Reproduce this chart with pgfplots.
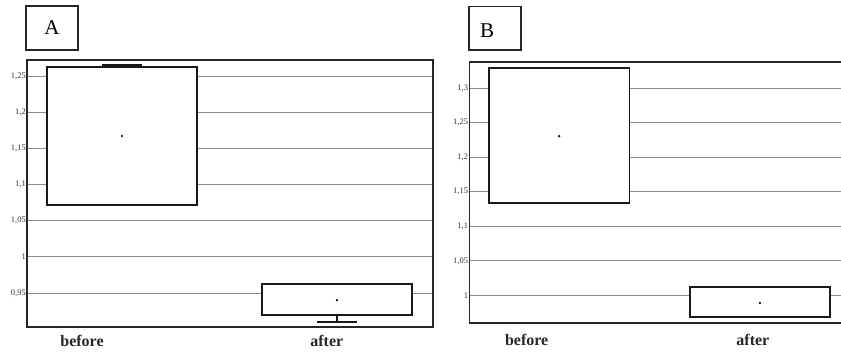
\documentclass[border=0pt]{standalone}
\usepackage{fontspec}
\setmainfont{Liberation Serif}
\usepackage{pgfplots}
\pgfplotsset{compat=1.18}
\usepgfplotslibrary{statistics}
\begin{document}
\begin{tikzpicture}
\useasboundingbox (0pt,0pt) rectangle (841pt,354pt);
\pgfplotsset{
  myax/.style={
    scale only axis,
    boxplot/draw direction=y,
    axis line style={line width=1.2pt, black!85},
    ymajorgrids,
    grid style={line width=0.8pt, black!45},
    ytick style={draw=none},
    xtick style={draw=none},
    /pgf/number format/use comma,
    /pgf/number format/assume math mode=true,
    yticklabel style={font=\fontsize{8.5}{9}\selectfont, inner sep=1pt, text=black!80},
    xticklabel style={font=\fontsize{16}{16}\selectfont\bfseries, text=black!85},
    clip=true,
  },
  bx/.style={fill=white, draw=black!90, line width=1.7pt, solid},
}
% Panel A
\begin{axis}[myax, at={(27pt,27pt)}, anchor=south west, width=406pt, height=267pt,
  xmin=0.558, xmax=2.447, ymin=0.903, ymax=1.272,
  ytick={0.95,1,1.05,1.1,1.15,1.2,1.25},
  xtick={0.814,1.953}, xticklabels={before,after},
  xticklabel style={yshift=-5pt}]
\addplot[bx, boxplot prepared={lower whisker=1.072, lower quartile=1.072, median=1.072,
  upper quartile=1.262, upper whisker=1.265, box extend=0.7, whisker extend=0.19, draw position=1}]
  coordinates {};
\addplot[bx, boxplot prepared={lower whisker=0.910, lower quartile=0.920, median=0.962,
  upper quartile=0.962, upper whisker=0.962, box extend=0.7, whisker extend=0.19, draw position=2}]
  coordinates {};
\addplot[only marks, mark=*, mark size=0.9pt, black] coordinates {(1,1.167) (2,0.940)};
\end{axis}
% Panel B
\begin{axis}[myax, at={(469.3pt,31pt)}, anchor=south west, width=373.7pt, height=261pt,
  xmin=0.552, xmax=2.414, ymin=0.960, ymax=1.338,
  ytick={1,1.05,1.1,1.15,1.2,1.25,1.3},
  xtick={0.838,1.965}, xticklabels={before,after},
  xticklabel style={yshift=-8pt}]
\addplot[bx, boxplot prepared={lower whisker=1.1336, lower quartile=1.1336, median=1.1336,
  upper quartile=1.329, upper whisker=1.329, box extend=0.7, whisker extend=0.01, draw position=1}]
  coordinates {};
\addplot[bx, boxplot prepared={lower whisker=0.9687, lower quartile=0.9687, median=0.9687,
  upper quartile=1.0126, upper whisker=1.0126, box extend=0.7, whisker extend=0.01, draw position=2}]
  coordinates {};
\addplot[only marks, mark=*, mark size=0.9pt, black] coordinates {(1,1.2306) (2,0.989)};
\end{axis}
% panel letters
\draw[line width=1.2pt, black!85] (26pt,304pt) rectangle (78pt,348pt);
\node[font=\fontsize{21}{21}\selectfont] at (52pt,326.5pt) {A};
\draw[line width=1.2pt, black!85] (469pt,304pt) rectangle (521pt,347.5pt);
\node[font=\fontsize{21}{21}\selectfont] at (487pt,323.5pt) {B};
\end{tikzpicture}
\end{document}
